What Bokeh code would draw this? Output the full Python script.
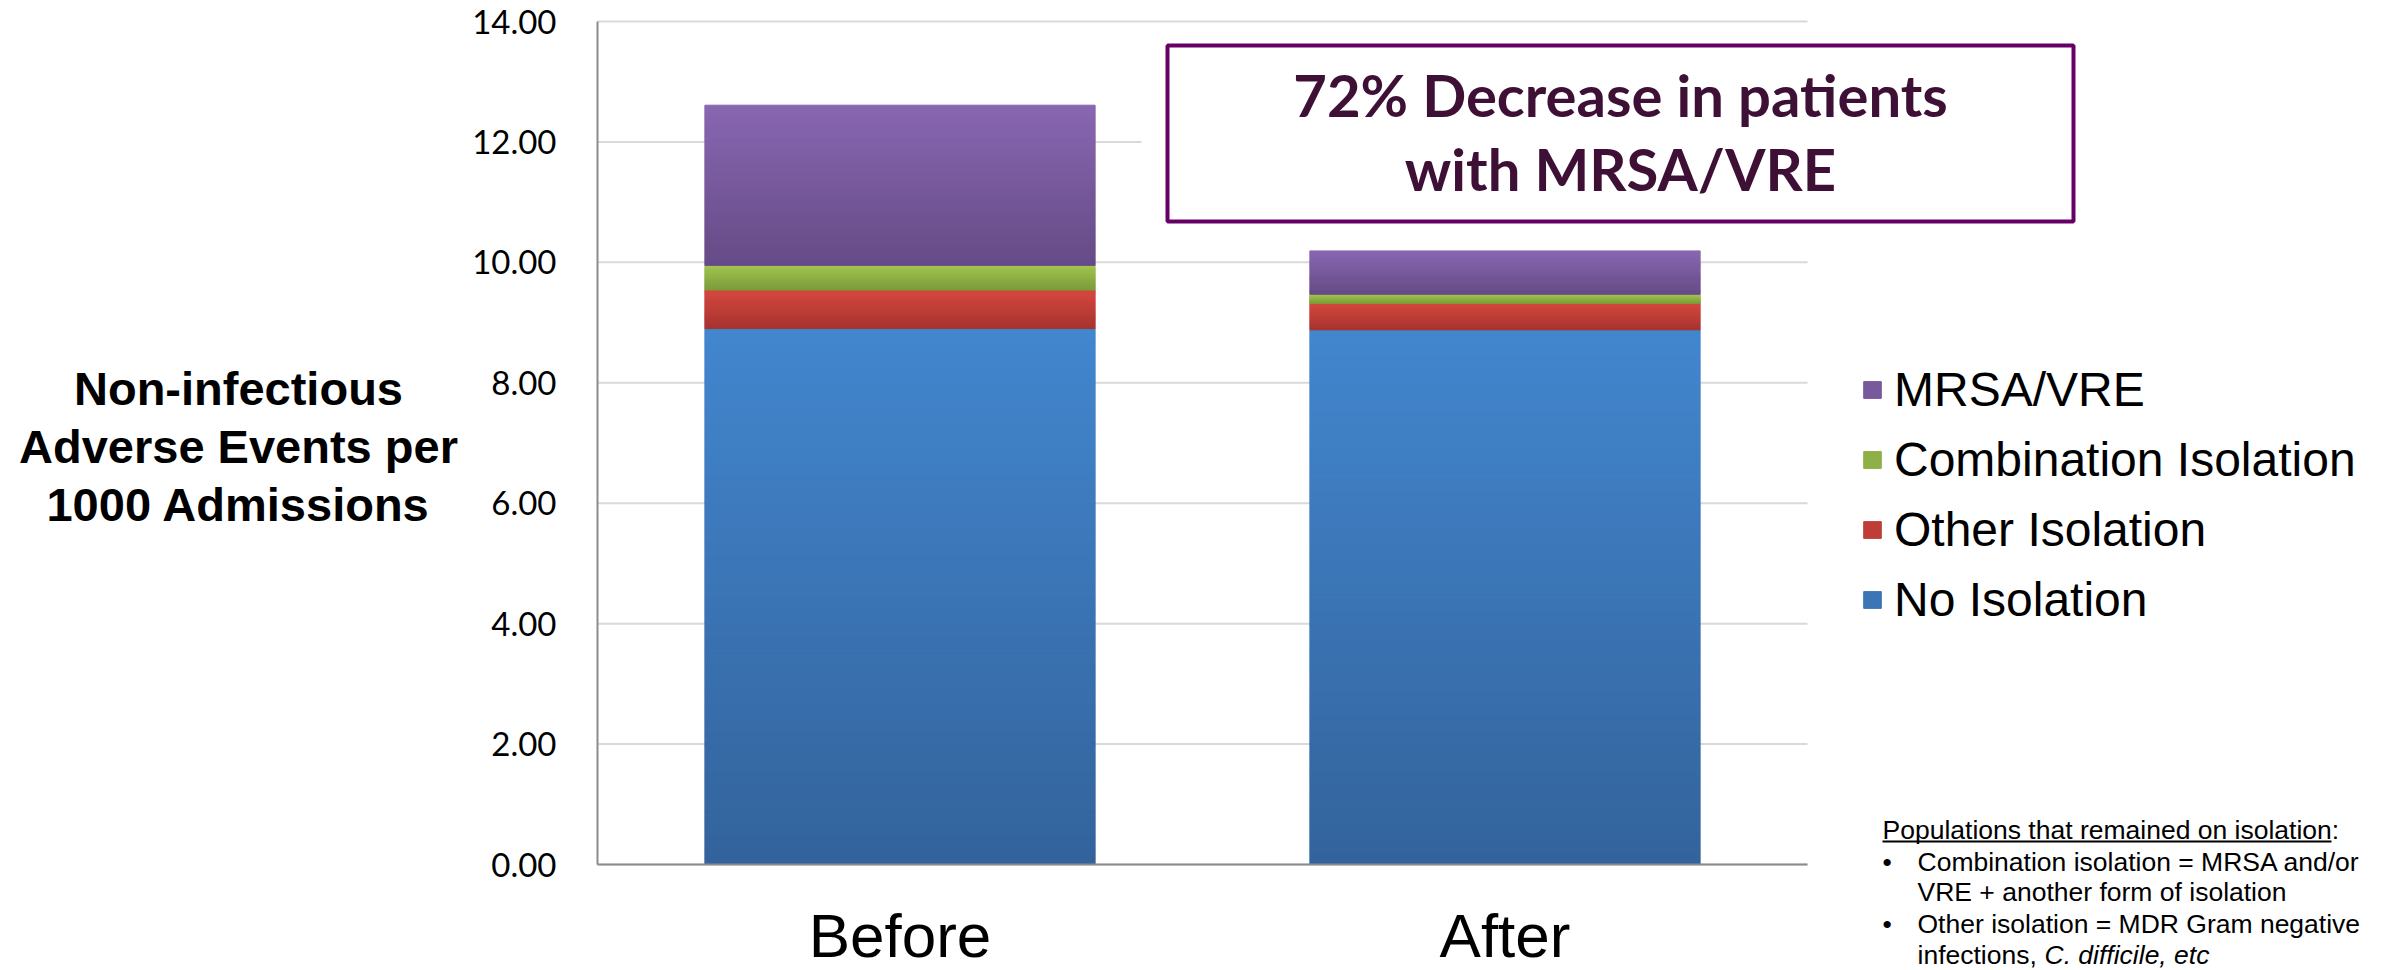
import numpy as np
from bokeh.plotting import figure
from bokeh.models import (Range1d, FixedTicker, Legend, LegendItem, Label,
                          BoxAnnotation, ColumnDataSource, NumeralTickFormatter)
from bokeh.embed import file_html
from bokeh.resources import INLINE

# ---- data -------------------------------------------------------------
categories = ["Before", "After"]
no_isolation = [8.90, 8.88]
other_isolation = [0.64, 0.44]
combination_isolation = [0.41, 0.15]
mrsa_vre = [2.66, 0.72]
y_ticks = [0, 2, 4, 6, 8, 10, 12, 14]

# stacking order bottom -> top, with (top colour, bottom colour) of each gradient
series = [
    ("No Isolation", no_isolation, "#4286CE", "#33639B"),
    ("Other Isolation", other_isolation, "#D5483F", "#A6332F"),
    ("Combination Isolation", combination_isolation, "#A2C451", "#7A9A3A"),
    ("MRSA/VRE", mrsa_vre, "#8866B1", "#654B86"),
]

# ---- canvas geometry: the frame fills the canvas, the chart area sits inside
W, H = 2389, 970
FL, FR, FT, FB = 597, 1807, 21, 864          # chart area edges in px
YMAX = y_ticks[-1]
XS = (FR - FL) / len(categories)             # px per x unit
YS = (FB - FT) / YMAX                        # px per y unit


def px2x(px):
    return (px - FL) / XS


def py2y(py):
    return (FB - py) / YS


p = figure(width=W, height=H,
           x_range=Range1d(px2x(0), px2x(W)), y_range=Range1d(py2y(H), py2y(0)),
           output_backend="svg", toolbar_location=None,
           min_border=0, min_border_left=0, min_border_right=0,
           min_border_top=0, min_border_bottom=0)
p.outline_line_color = None
p.background_fill_color = "white"
p.border_fill_color = "white"
p.xgrid.visible = False
p.ygrid.visible = False

# ---- horizontal gridlines limited to the chart area -------------------
p.segment(x0=[0] * len(y_ticks), x1=[len(categories)] * len(y_ticks), y0=y_ticks, y1=y_ticks,
          line_color="#D9D9D9", line_width=2, level="underlay")

# ---- stacked bars, each segment shaded top-light / bottom-dark --------
BAR_W = 0.645
N = 40


def hex2rgb(h):
    h = h.lstrip("#")
    return np.array([int(h[i:i + 2], 16) for i in (0, 2, 4)], dtype=float)


def rgb2hex(c):
    return "#%02x%02x%02x" % tuple(int(round(v)) for v in c)


centers = [i + 0.5 for i in range(len(categories))]
base = [0.0] * len(categories)
legend_items = []
for name, vals, c_top, c_bot in series:
    top_rgb, bot_rgb = hex2rgb(c_top), hex2rgb(c_bot)
    L, R, B, T, C = [], [], [], [], []
    for i, v in enumerate(vals):
        for j in range(N):
            frac = (j + 0.5) / N
            L.append(centers[i] - BAR_W / 2)
            R.append(centers[i] + BAR_W / 2)
            B.append(base[i] + v * j / N)
            T.append(base[i] + v * (j + 1) / N)
            C.append(rgb2hex(bot_rgb + (top_rgb - bot_rgb) * frac))
        base[i] += v
    src = ColumnDataSource(dict(left=L, right=R, bottom=B, top=T, color=C))
    r = p.quad(left="left", right="right", bottom="bottom", top="top", source=src,
               fill_color="color", line_color="color", line_width=1)
    legend_items.append(LegendItem(label=name, renderers=[r], index=N // 2))

# ---- axes pinned at the chart origin -----------------------------------
yax = p.yaxis[0]
yax.fixed_location = 0
yax.bounds = (0, YMAX)
yax.ticker = FixedTicker(ticks=y_ticks)
yax.formatter = NumeralTickFormatter(format="0.00")
yax.major_tick_line_color = None
yax.minor_tick_line_color = None
yax.axis_line_color = "#8C8C8C"
yax.axis_line_width = 2
yax.major_label_text_font = "Lato"
yax.major_label_text_font_size = "33px"
yax.major_label_text_color = "black"
yax.major_label_standoff = 35

xax = p.xaxis[0]
xax.fixed_location = 0
xax.bounds = (0, len(categories))
xax.ticker = FixedTicker(ticks=centers)
xax.major_label_overrides = {c: lab for c, lab in zip(centers, categories)}
xax.major_tick_line_color = None
xax.minor_tick_line_color = None
xax.axis_line_color = "#8C8C8C"
xax.axis_line_width = 2
xax.major_label_text_font = "Liberation Sans"
xax.major_label_text_font_size = "62px"
xax.major_label_text_color = "black"
xax.major_label_standoff = 30

# ---- y-axis title (horizontal, three lines) ---------------------------
p.add_layout(Label(x=px2x(238), y=py2y(446),
                   text="Non-infectious\nAdverse Events per\n1000 Admissions",
                   text_align="center", text_baseline="middle",
                   text_font="Liberation Sans", text_font_style="bold",
                   text_font_size="47px", text_color="black", text_line_height=1.09))

# ---- call-out box --------------------------------------------------------
p.add_layout(BoxAnnotation(left=px2x(1141), right=px2x(2100), top=py2y(36), bottom=py2y(236),
                           fill_color="white", fill_alpha=1.0, line_color=None))
p.add_layout(BoxAnnotation(left=px2x(1167), right=px2x(2073), top=py2y(45), bottom=py2y(221),
                           fill_color="white", fill_alpha=1.0,
                           line_color="#660066", line_alpha=1.0, line_width=4))
p.add_layout(Label(x=px2x(1620), y=py2y(131),
                   text="72% Decrease in patients\nwith MRSA/VRE",
                   text_align="center", text_baseline="middle",
                   text_font="Lato", text_font_style="bold", text_font_size="58px",
                   text_color="#3E1036", text_line_height=1.07))

# ---- legend (top series first) -----------------------------------------
legend = Legend(items=legend_items[::-1], location=(1861, H - 627),
                glyph_width=22, glyph_height=21, label_standoff=11, spacing=15,
                label_text_font="Liberation Sans", label_text_font_size="48px",
                label_text_color="black", padding=0, margin=0,
                border_line_color=None, background_fill_alpha=0)
p.add_layout(legend)

# ---- footnote ------------------------------------------------------------
FOOT = dict(text_font="Liberation Sans", text_font_size="26.5px", text_color="black",
            text_baseline="alphabetic", text_align="left")
LIFT = 9   # rendered text sits a little below the requested baseline


def foot(px, baseline_py, text, **kw):
    p.add_layout(Label(x=px2x(px), y=py2y(baseline_py - LIFT), text=text, **FOOT, **kw))


foot(1882, 838, "Populations that remained on isolation:")
p.add_layout(BoxAnnotation(left=px2x(1882), right=px2x(2331), top=py2y(840), bottom=py2y(842),
                           fill_color="black", fill_alpha=1.0, line_color=None))
for yb in (870, 932):
    foot(1882, yb, "\u2022")
foot(1917, 870, "Combination isolation = MRSA and/or")
foot(1917, 900, "VRE + another form of isolation")
foot(1917, 932, "Other isolation = MDR Gram negative")
foot(1917, 963, "infections, ")
foot(2044, 963, "C. difficile, etc", text_font_style="italic")

open("out.html", "w").write(file_html(p, INLINE))
